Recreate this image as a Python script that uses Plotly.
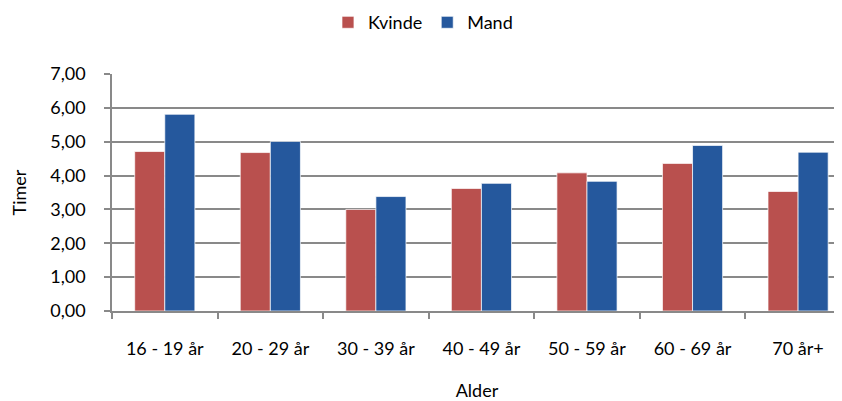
import plotly.graph_objects as go

ageGroups = ['16 - 19 år', '20 - 29 år', '30 - 39 år', '40 - 49 år', '50 - 59 år', '60 - 69 år', '70 år+']
kvinde = [4.71, 4.68, 3.00, 3.62, 4.08, 4.36, 3.53]
mand = [5.81, 5.01, 3.38, 3.77, 3.83, 4.89, 4.69]
yTicks = [0, 1, 2, 3, 4, 5, 6, 7]
yTickText = ['0,00', '1,00', '2,00', '3,00', '4,00', '5,00', '6,00', '7,00']

fontFamily = "Lato, 'Liberation Sans', sans-serif"
gridColor = '#898989'

fig = go.Figure()
fig.add_trace(go.Bar(x=ageGroups, y=kvinde, name='Kvinde',
                     marker=dict(color='#B9504E', line=dict(color='rgba(255,255,255,0.7)', width=1))))
fig.add_trace(go.Bar(x=ageGroups, y=mand, name='Mand',
                     marker=dict(color='#25589D', line=dict(color='rgba(255,255,255,0.7)', width=1))))

# page body adds an 8px offset, so the figure is sized to the visible area
fig.update_layout(
    width=834,
    height=393,
    margin=dict(l=104, r=0, t=66, b=90, autoexpand=False),
    barmode='group',
    bargap=0.43,
    bargroupgap=0,
    plot_bgcolor='white',
    paper_bgcolor='white',
    font=dict(family=fontFamily, size=18, color='black'),
    legend=dict(orientation='h', x=0.426, xanchor='center', xref='paper',
                y=1.295, yref='paper', yanchor='top', font=dict(size=18),
                itemwidth=30, traceorder='normal'),
    xaxis=dict(
        range=[-0.5, 6.416],
        showline=True, linecolor=gridColor, linewidth=1.5,
        ticks='outside', ticklen=6, tickcolor=gridColor, tickwidth=1.5,
        tickson='boundaries', showgrid=False,
        ticklabelstandoff=21,
        title=dict(text='Alder', standoff=31, font=dict(size=18)),
    ),
    yaxis=dict(
        range=[0, 7],
        tickvals=yTicks, ticktext=yTickText,
        showline=True, linecolor=gridColor, linewidth=1.5,
        ticks='outside', ticklen=6, tickcolor=gridColor, tickwidth=1.5,
        showgrid=True, gridcolor=gridColor, gridwidth=1.5,
        zeroline=False,
        ticklabelstandoff=15,
        title=dict(text='Timer', standoff=24, font=dict(size=18)),
    ),
)

fig.write_html("out.html")
